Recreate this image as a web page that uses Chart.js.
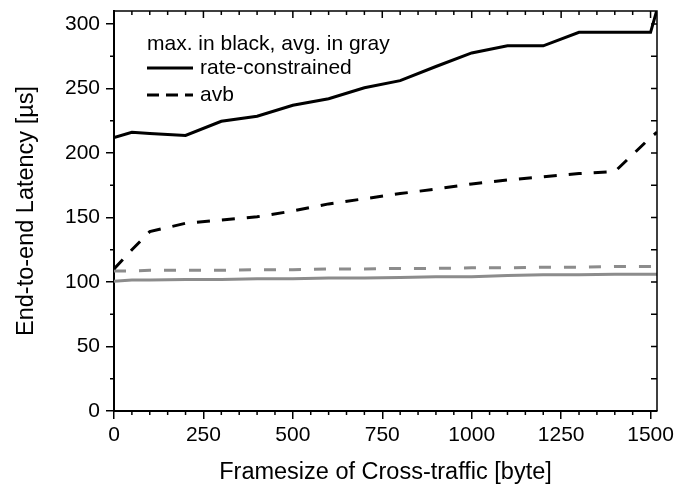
<!DOCTYPE html>
<html>
<head>
<meta charset="utf-8">
<script src="https://cdn.jsdelivr.net/npm/chart.js@4/dist/chart.umd.min.js"></script>
<style>
  html, body { margin: 0; padding: 0; background: #fff; }
  #wrap { width: 697px; height: 487px; }
</style>
</head>
<body>
<div id="wrap"><canvas id="chart" width="697" height="487"></canvas></div>
<script>
// frame sizes of the cross traffic (byte)
const frameSizes = [0, 50, 100, 200, 300, 400, 500, 600, 700, 800, 900, 1000, 1100, 1200, 1300, 1400, 1500, 1518];

// latency in us, max in black, avg in gray
const rcMax  = [212, 216, 215, 213.5, 224.5, 228.5, 237, 242, 250.5, 256, 267, 277.5, 283, 283, 293.5, 293.5, 293.5, 311];
const avbMax = [110, 125, 139, 145.5, 148, 150.5, 155, 160.5, 164.5, 168.5, 172, 176, 179, 181.5, 184, 185.5, 212, 216];
const rcAvg  = [100.5, 101.5, 101.5, 102, 102, 102.5, 102.5, 103, 103, 103.5, 104, 104, 105, 105.5, 105.5, 106, 106, 106];
const avbAvg = [108.5, 108.5, 109, 109, 109, 109.5, 109.5, 110, 110, 110.5, 110.5, 111, 111, 111.5, 111.5, 112, 112, 112];

const xTicks = [0, 250, 500, 750, 1000, 1250, 1500];
const yTicks = [0, 50, 100, 150, 200, 250, 300];

const legendTitle = 'max. in black, avg. in gray';
const legendItems = ['rate-constrained', 'avb'];

const FONT = '"Liberation Sans", Arial, sans-serif';
const GRAY = '#8c8c8c';

const toPoints = (ys) => frameSizes.map((x, i) => ({ x: x, y: ys[i] }));

// frame, minor ticks and the in-plot legend
const decorPlugin = {
    id: 'decor',
    afterDraw(chart) {
        const { ctx, chartArea: a, scales } = chart;
        const xs = scales.x, ys = scales.y;
        ctx.save();
        ctx.strokeStyle = '#000';
        ctx.lineWidth = 1.5;

        // top and right frame lines
        ctx.beginPath();
        ctx.moveTo(a.left, a.top);
        ctx.lineTo(a.right, a.top);
        ctx.lineTo(a.right, a.bottom);
        ctx.stroke();

        ctx.beginPath();
        for (let v = 0; v <= 1500; v += 50) {
            const px = xs.getPixelForValue(v);
            const major = v % 250 === 0;
            if (!major) {
                ctx.moveTo(px, a.bottom);
                ctx.lineTo(px, a.bottom + 4);
            }
            ctx.moveTo(px, a.top);
            ctx.lineTo(px, a.top + (major ? 7 : 4));
        }
        for (let v = 0; v <= 300; v += 25) {
            const py = ys.getPixelForValue(v);
            if (v % 50 !== 0) {
                ctx.moveTo(a.left, py);
                ctx.lineTo(a.left - 4, py);
            }
            ctx.moveTo(a.right, py);
            ctx.lineTo(a.right - 6, py);
        }
        ctx.stroke();

        // legend
        const lx = a.left + 33;
        const ly = a.top + 33;
        ctx.fillStyle = '#000';
        ctx.font = '21px ' + FONT;
        ctx.textBaseline = 'middle';
        ctx.fillText(legendTitle, lx, ly);

        ctx.lineWidth = 3;
        legendItems.forEach((label, i) => {
            const y = ly + 24 + i * 27;
            ctx.setLineDash(i === 0 ? [] : [12, 7]);
            ctx.beginPath();
            ctx.moveTo(lx, y);
            ctx.lineTo(lx + 46, y);
            ctx.stroke();
            ctx.fillText(label, lx + 53, y);
        });
        ctx.restore();
    }
};

const ctx = document.getElementById('chart');
new Chart(ctx, {
    type: 'line',
    data: {
        datasets: [
            { label: 'rate-constrained max', data: toPoints(rcMax), borderColor: '#000', borderWidth: 3 },
            { label: 'avb max', data: toPoints(avbMax), borderColor: '#000', borderWidth: 3, borderDash: [13, 12] },
            { label: 'rate-constrained avg', data: toPoints(rcAvg), borderColor: GRAY, borderWidth: 3 },
            { label: 'avb avg', data: toPoints(avbAvg), borderColor: GRAY, borderWidth: 3, borderDash: [12, 13] },
        ],
    },
    options: {
        responsive: false,
        animation: false,
        layout: { padding: { top: 11, right: 40, left: 0, bottom: 0 } },
        elements: { point: { radius: 0 }, line: { tension: 0 } },
        plugins: { legend: { display: false }, tooltip: { enabled: false } },
        scales: {
            x: {
                type: 'linear',
                min: 0,
                max: 1518,
                afterBuildTicks: (scale) => { scale.ticks = xTicks.map((v) => ({ value: v })); },
                afterFit: (scale) => { scale.height = 76; scale.paddingLeft = 0; scale.paddingRight = 0; },
                ticks: {
                    color: '#000', font: { family: FONT, size: 21 }, padding: 4, maxRotation: 0,
                    callback: (v) => String(v),
                },
                grid: { drawOnChartArea: false, color: '#000', tickLength: 8, lineWidth: 1.5 },
                border: { color: '#000', width: 2 },
                title: {
                    display: true,
                    text: 'Framesize of Cross-traffic [byte]',
                    color: '#000',
                    font: { family: FONT, size: 23.5 },
                    padding: { top: 8, bottom: 0 },
                },
            },
            y: {
                min: 0,
                max: 310,
                afterBuildTicks: (scale) => { scale.ticks = yTicks.map((v) => ({ value: v })); },
                afterFit: (scale) => { scale.width = 114; scale.paddingTop = 0; scale.paddingBottom = 0; },
                ticks: { color: '#000', font: { family: FONT, size: 21 }, padding: 6, callback: (v) => String(v) },
                grid: { drawOnChartArea: false, color: '#000', tickLength: 8, lineWidth: 1.5 },
                border: { color: '#000', width: 2 },
                title: {
                    display: true,
                    text: 'End-to-end Latency [µs]',
                    color: '#000',
                    font: { family: FONT, size: 23.5 },
                    padding: { top: 12, bottom: 0 },
                },
            },
        },
    },
    plugins: [decorPlugin],
});
</script>
</body>
</html>
